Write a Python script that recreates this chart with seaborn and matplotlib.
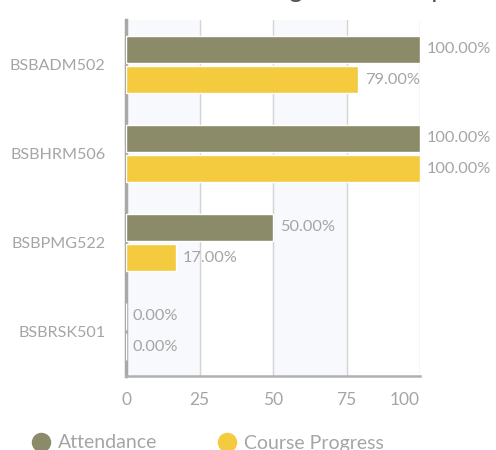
import matplotlib
matplotlib.use("Agg")
import matplotlib.pyplot as plt
import seaborn as sns
import pandas as pd
from matplotlib.lines import Line2D

units = ["BSBADM502", "BSBHRM506", "BSBPMG522", "BSBRSK501"]
attendance = [100, 100, 50, 0]
course_progress = [79, 100, 17, 0]
series_names = ["Attendance", "Course Progress"]
colors = ["#8b8b6a", "#f4ca3f"]
x_ticks = [0, 25, 50, 75, 100]

df = pd.DataFrame({
    "unit": units * 2,
    "value": attendance + course_progress,
    "series": [series_names[0]] * len(units) + [series_names[1]] * len(units),
})

sns.set_theme(style="white")
plt.rcParams["font.family"] = ["Lato", "DejaVu Sans"]

fig = plt.figure(figsize=(4.96, 4.5), dpi=100)
ax = fig.add_axes([126 / 496, 1 - 376 / 450, 294 / 496, 356 / 450])

for i in range(0, len(x_ticks) - 1, 2):
    ax.axvspan(x_ticks[i], x_ticks[i + 1], color="#f8f9fc", zorder=0)

sns.barplot(data=df, y="unit", x="value", hue="series", order=units,
            hue_order=series_names, palette=colors, orient="h",
            width=0.68, gap=0.12, ax=ax, legend=False, zorder=3,
            saturation=1, err_kws={"linewidth": 0})

ax.set_xlim(0, 100)
ax.set_ylim(3.5, -0.5)
ax.set_xticks(x_ticks)
ax.set_xticklabels([str(t) for t in x_ticks])
for t in x_ticks[1:]:
    ax.axvline(t, color="#d4d4d4", lw=1, zorder=1)

txtcol = "#a5a5a5"
for cont in ax.containers:
    for bar in cont:
        w = bar.get_width()
        y = bar.get_y() + bar.get_height() / 2
        ax.annotate(f"{w:.2f}%", (w, y), xytext=(5, 0), textcoords="offset points",
                    va="center", ha="left", fontsize=11.8, color=txtcol,
                    annotation_clip=False)

ax.set_xlabel("")
ax.set_ylabel("")
ax.tick_params(axis="y", length=0, pad=15, labelsize=11.6, labelcolor=txtcol)
ax.tick_params(axis="x", length=0, pad=11.5, labelsize=12.5, labelcolor=txtcol)
labels = ax.get_xticklabels()
labels[-1].set_ha("right")

for s in ["top", "right"]:
    ax.spines[s].set_visible(False)
ax.spines["left"].set_color("#a8a8a8")
ax.spines["left"].set_linewidth(2.5)
ax.spines["bottom"].set_color("#b0b0b0")
ax.spines["bottom"].set_linewidth(1.8)

handles = [Line2D([], [], marker="o", ls="", markersize=13,
                  markerfacecolor=c, markeredgecolor=c) for c in colors]
fig.legend(handles, series_names, loc="center left", bbox_to_anchor=(12 / 496, 1 - 443 / 450),
           ncol=2, frameon=False, fontsize=14, labelcolor=txtcol,
           handletextpad=0.25, columnspacing=3.0, handlelength=1.2)

fig.text(203 / 496, 1 + 2.5 / 450, "Learning Status Snapshot", ha="left", va="baseline",
         fontsize=19, color="#555555")

fig.savefig("out.png", dpi=100)
